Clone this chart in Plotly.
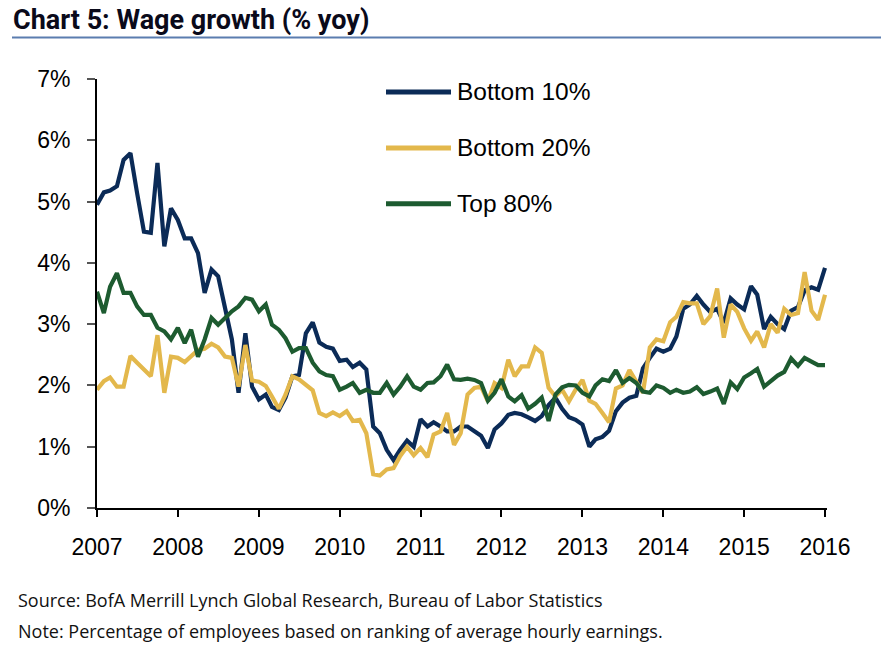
import pandas as pd
import plotly.graph_objects as go

dates = pd.date_range("2007-01-01", periods=109, freq="MS")

bottom10 = [
    4.95, 5.15, 5.18, 5.25, 5.68, 5.79, 5.14, 4.51, 4.49, 5.63,
    4.27, 4.89, 4.70, 4.40, 4.40, 4.16, 3.51, 3.89, 3.78, 3.29,
    2.75, 1.88, 2.85, 1.98, 1.77, 1.85, 1.65, 1.60, 1.80, 2.15,
    2.17, 2.85, 3.03, 2.70, 2.63, 2.60, 2.40, 2.42, 2.30, 2.37,
    2.26, 1.33, 1.22, 0.95, 0.78, 0.95, 1.10, 1.00, 1.45, 1.33,
    1.40, 1.33, 1.25, 1.25, 1.33, 1.33, 1.25, 1.18, 0.98, 1.28,
    1.38, 1.52, 1.55, 1.53, 1.48, 1.42, 1.50, 1.68, 1.80, 1.62,
    1.48, 1.44, 1.36, 1.00, 1.12, 1.16, 1.26, 1.58, 1.72, 1.80,
    1.83, 2.28, 2.45, 2.60, 2.55, 2.60, 2.80, 3.25, 3.32, 3.46,
    3.32, 3.20, 3.25, 3.02, 3.42, 3.32, 3.24, 3.62, 3.48, 2.92,
    3.12, 3.00, 2.92, 3.22, 3.28, 3.55, 3.60, 3.56, 3.92,
]

bottom20 = [
    1.93, 2.07, 2.13, 1.98, 1.98, 2.48, 2.37, 2.25, 2.15, 2.82,
    1.88, 2.47, 2.45, 2.38, 2.47, 2.58, 2.60, 2.68, 2.62, 2.47,
    2.45, 1.98, 2.66, 2.08, 2.06, 1.99, 1.82, 1.62, 1.85, 2.15,
    2.10, 2.00, 1.92, 1.55, 1.50, 1.56, 1.50, 1.58, 1.42, 1.44,
    1.22, 0.55, 0.53, 0.63, 0.65, 0.85, 1.00, 0.86, 0.98, 0.83,
    1.20, 1.25, 1.55, 1.03, 1.22, 1.85, 1.96, 1.98, 1.74, 2.04,
    1.96, 2.42, 2.15, 2.31, 2.31, 2.62, 2.53, 1.96, 1.82, 1.93,
    1.74, 1.93, 2.09, 1.75, 1.70, 1.55, 1.40, 1.95, 2.00, 2.25,
    2.05, 1.88, 2.62, 2.75, 2.72, 3.03, 3.12, 3.36, 3.34, 3.34,
    3.00, 3.13, 3.58, 2.78, 3.32, 3.20, 2.93, 2.73, 2.88, 2.62,
    3.00, 2.86, 3.25, 3.15, 3.18, 3.85, 3.22, 3.07, 3.48,
]

top80 = [
    3.53, 3.18, 3.61, 3.83, 3.51, 3.51, 3.29, 3.15, 3.15, 2.94,
    2.88, 2.75, 2.94, 2.69, 2.91, 2.47, 2.75, 3.10, 2.99, 3.10,
    3.21, 3.29, 3.43, 3.40, 3.21, 3.32, 2.99, 2.91, 2.77, 2.55,
    2.61, 2.61, 2.37, 2.23, 2.17, 2.15, 1.93, 1.98, 2.04, 1.88,
    1.93, 1.88, 1.88, 2.04, 1.85, 1.98, 2.15, 1.98, 1.93, 2.04,
    2.05, 2.15, 2.34, 2.10, 2.09, 2.11, 2.09, 2.04, 1.75, 1.88,
    2.10, 1.82, 1.74, 1.84, 1.62, 1.70, 1.80, 1.42, 1.85, 1.97,
    2.01, 2.00, 1.88, 1.82, 2.00, 2.10, 2.07, 2.25, 2.04, 2.12,
    2.04, 1.90, 1.88, 2.00, 1.96, 1.88, 1.93, 1.88, 1.90, 1.97,
    1.86, 1.90, 1.95, 1.70, 2.05, 1.94, 2.13, 2.20, 2.27, 1.98,
    2.08, 2.16, 2.22, 2.44, 2.32, 2.45, 2.39, 2.33, 2.33,
]

series_names = ["Bottom 10%", "Bottom 20%", "Top 80%"]
series_values = [bottom10, bottom20, top80]
series_colors = ["#0B2B57", "#E3B84C", "#1D5B30"]

y_ticks = [0, 1, 2, 3, 4, 5, 6, 7]
y_tick_labels = [f"{v}%" for v in y_ticks]

W, H = 881, 648
L, R, T, B = 97, 827, 79, 508.5

fig = go.Figure()
for name, vals, col in zip(series_names, series_values, series_colors):
    fig.add_trace(go.Scatter(x=dates, y=vals, mode="lines", name=name,
                             line=dict(color=col, width=4.2), showlegend=False))

tick_font = dict(family="Liberation Sans, Arial, sans-serif", size=23, color="#000000")

fig.update_layout(
    width=W, height=H,
    margin=dict(l=L, r=W - R, t=T, b=H - B, pad=0),
    paper_bgcolor="white", plot_bgcolor="white",
    xaxis=dict(
        range=["2007-01-01", "2016-01-10"],
        tickmode="linear", tick0="2007-01-01", dtick="M12", tickformat="%Y",
        showgrid=False, zeroline=False,
        showline=True, linecolor="#000000", linewidth=2,
        ticks="outside", ticklen=7, tickwidth=1.5, tickcolor="#000000",
        tickfont=tick_font, ticklabelstandoff=10,
    ),
    yaxis=dict(
        range=[0, 7], tickvals=y_ticks, ticktext=y_tick_labels,
        showgrid=False, zeroline=False,
        showline=True, linecolor="#000000", linewidth=2,
        ticks="outside", ticklen=8, tickwidth=1.5, tickcolor="#555555",
        tickfont=tick_font, ticklabelstandoff=12,
    ),
)

def px_x(px):
    return (px - L) / (R - L)

def px_y(py):
    return (B - py) / (B - T)

# custom legend
legend_y = [92, 148, 204]
for name, col, ly in zip(series_names, series_colors, legend_y):
    fig.add_shape(type="line", xref="paper", yref="paper",
                  x0=px_x(386), x1=px_x(451), y0=px_y(ly), y1=px_y(ly),
                  line=dict(color=col, width=5))
    fig.add_annotation(xref="paper", yref="paper", x=px_x(455), y=px_y(ly),
                       xanchor="left", yanchor="middle", showarrow=False,
                       text=name, font=dict(family="Liberation Sans, Arial, sans-serif",
                                            size=24.5, color="#000000"))

# title and rule
fig.add_annotation(xref="paper", yref="paper", x=px_x(11), y=px_y(20),
                   xanchor="left", yanchor="middle", showarrow=False,
                   text="<b>Chart 5: Wage growth (% yoy)</b>",
                   font=dict(family="Roboto, sans-serif", size=27, color="#0a0a1a"))
fig.add_shape(type="line", xref="paper", yref="paper",
              x0=px_x(12), x1=px_x(881), y0=px_y(37.5), y1=px_y(37.5),
              line=dict(color="#5B7DAF", width=2))

# footer
foot_font = dict(family="Open Sans, sans-serif", size=18, color="#111111")
fig.add_annotation(xref="paper", yref="paper", x=px_x(16), y=px_y(601),
                   xanchor="left", yanchor="middle", showarrow=False,
                   text="Source: BofA Merrill Lynch Global Research, Bureau of Labor Statistics",
                   font=foot_font)
fig.add_annotation(xref="paper", yref="paper", x=px_x(16), y=px_y(632),
                   xanchor="left", yanchor="middle", showarrow=False,
                   text="Note: Percentage of employees based on ranking of average hourly earnings.",
                   font=foot_font)

fig.write_html("out.html")
